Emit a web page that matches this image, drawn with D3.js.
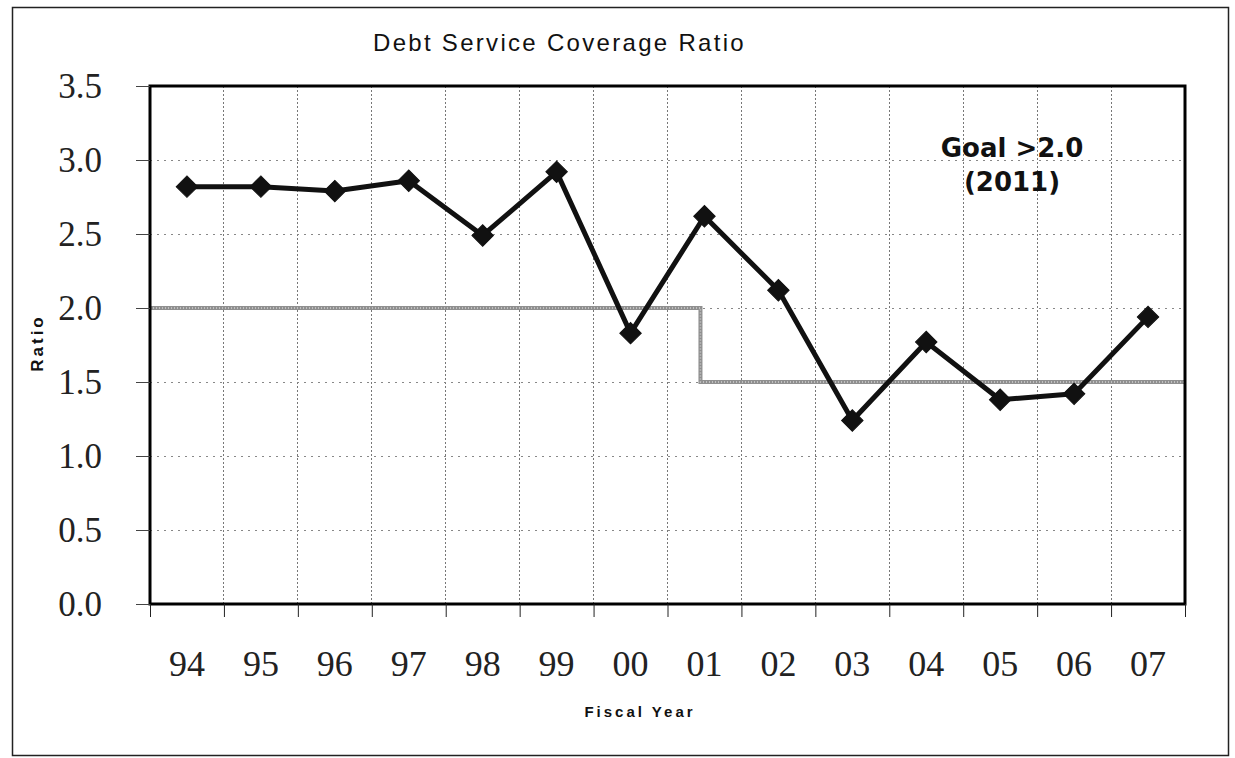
<!DOCTYPE html>
<html lang="en">
<head>
    <meta charset="UTF-8">
    <title>Debt Service Coverage Ratio</title>
    <style>
        html, body {
            margin: 0;
            padding: 0;
            background-color: #fff;
        }
        #chart {
            width: 1235px;
            height: 758px;
        }
        .grid line {
            shape-rendering: crispEdges;
        }
    </style>
</head>
<body>
    <div id="chart"></div>

    <script src="https://d3js.org/d3.v7.min.js"></script>
    <script>
        // values
        const years = ['94', '95', '96', '97', '98', '99', '00', '01', '02', '03', '04', '05', '06', '07'];
        const ratios = [2.82, 2.82, 2.79, 2.86, 2.49, 2.92, 1.83, 2.62, 2.12, 1.24, 1.77, 1.38, 1.42, 1.94];
        const yTicks = [0, 0.5, 1.0, 1.5, 2.0, 2.5, 3.0, 3.5];
        // goal: 2.0 until FY01, then 1.5
        const goalYears = ['94', '01'];
        const goalValues = [2.0, 1.5];

        const width = 1235;
        const height = 758;
        const plot = { left: 150, right: 1185, top: 86, bottom: 604 };

        const svg = d3.select('#chart')
            .append('svg')
            .attr('width', width)
            .attr('height', height);

        // outer frame
        svg.append('rect')
            .attr('x', 12.5)
            .attr('y', 7.5)
            .attr('width', 1216)
            .attr('height', 748)
            .attr('fill', 'none')
            .attr('stroke', '#222')
            .attr('stroke-width', 1.5);

        const x = d3.scaleBand()
            .domain(years)
            .range([plot.left, plot.right])
            .padding(0);

        const xEdge = d3.scaleLinear()
            .domain([0, years.length])
            .range([plot.left, plot.right]);

        const y = d3.scaleLinear()
            .domain([0, 3.5])
            .range([plot.bottom, plot.top]);

        const cx = d => x(d) + x.bandwidth() / 2;

        // gridlines
        svg.append('g')
            .attr('class', 'grid')
            .selectAll('line')
            .data(d3.range(1, years.length))
            .enter()
            .append('line')
            .attr('x1', d => xEdge(d))
            .attr('x2', d => xEdge(d))
            .attr('y1', plot.top)
            .attr('y2', plot.bottom)
            .attr('stroke', '#777')
            .attr('stroke-width', 1)
            .attr('stroke-dasharray', '2,2');

        svg.append('g')
            .attr('class', 'grid')
            .selectAll('line')
            .data(yTicks.filter(v => v > 0 && v < 3.5))
            .enter()
            .append('line')
            .attr('x1', plot.left)
            .attr('x2', plot.right)
            .attr('y1', d => y(d))
            .attr('y2', d => y(d))
            .attr('stroke', '#888')
            .attr('stroke-width', 1)
            .attr('stroke-dasharray', '2,5');

        // goal step line
        const goalPoints = [
            [plot.left, goalValues[0]],
            [cx(goalYears[1]) - 4, goalValues[1]],
            [plot.right, goalValues[1]]
        ];
        const goalLine = d3.line()
            .x(d => d[0])
            .y(d => y(d[1]))
            .curve(d3.curveStepAfter);
        svg.append('path')
            .datum(goalPoints)
            .attr('fill', 'none')
            .attr('stroke', '#8f8f8f')
            .attr('stroke-width', 4)
            .attr('d', goalLine);
        svg.append('path')
            .datum(goalPoints)
            .attr('fill', 'none')
            .attr('stroke', '#cfcfcf')
            .attr('stroke-width', 1.5)
            .attr('stroke-dasharray', '1,2')
            .attr('d', goalLine);

        // ratio series
        const series = years.map((yr, i) => ({ year: yr, value: ratios[i] }));

        svg.append('path')
            .datum(series)
            .attr('fill', 'none')
            .attr('stroke', '#111')
            .attr('stroke-width', 5)
            .attr('stroke-linejoin', 'round')
            .attr('d', d3.line()
                .x(d => cx(d.year))
                .y(d => y(d.value)));

        svg.selectAll('path.marker')
            .data(series)
            .enter()
            .append('path')
            .attr('class', 'marker')
            .attr('d', d3.symbol().type(d3.symbolSquare).size(230))
            .attr('transform', d => `translate(${cx(d.year)},${y(d.value)}) rotate(45)`)
            .attr('fill', '#111')
            .attr('stroke', '#111')
            .attr('stroke-width', 1);

        // plot border
        svg.append('rect')
            .attr('x', plot.left)
            .attr('y', plot.top)
            .attr('width', plot.right - plot.left)
            .attr('height', plot.bottom - plot.top)
            .attr('fill', 'none')
            .attr('stroke', '#000')
            .attr('stroke-width', 3);

        // y axis
        const yAxis = svg.append('g')
            .attr('transform', `translate(${plot.left},0)`)
            .call(d3.axisLeft(y)
                .tickValues(yTicks)
                .tickFormat(d3.format('.1f'))
                .tickSizeInner(14)
                .tickSizeOuter(0)
                .tickPadding(34));
        yAxis.select('.domain').remove();
        yAxis.selectAll('line').attr('stroke', '#444');
        yAxis.selectAll('text')
            .attr('font-family', '"Liberation Serif", "Times New Roman", serif')
            .attr('font-size', '35px')
            .attr('fill', '#222');

        // x tick marks at category edges
        const xTicks = svg.append('g')
            .attr('transform', `translate(0,${plot.bottom})`)
            .call(d3.axisBottom(xEdge)
                .tickValues(d3.range(0, years.length + 1))
                .tickFormat('')
                .tickSizeInner(13)
                .tickSizeOuter(0));
        xTicks.select('.domain').remove();
        xTicks.selectAll('line').attr('stroke', '#222');

        // x labels
        const xAxis = svg.append('g')
            .attr('transform', `translate(0,${plot.bottom})`)
            .call(d3.axisBottom(x)
                .tickSize(0)
                .tickPadding(46));
        xAxis.select('.domain').remove();
        xAxis.selectAll('text')
            .attr('font-family', '"Liberation Serif", "Times New Roman", serif')
            .attr('font-size', '36px')
            .attr('fill', '#222');

        // titles
        svg.append('text')
            .attr('x', 373)
            .attr('y', 51)
            .attr('font-family', '"Liberation Sans", Arial, sans-serif')
            .attr('font-size', '24px')
            .attr('letter-spacing', '2.3px')
            .attr('fill', '#111')
            .text('Debt Service Coverage Ratio');

        svg.append('text')
            .attr('x', 640)
            .attr('y', 717)
            .attr('text-anchor', 'middle')
            .attr('font-family', '"Liberation Sans", Arial, sans-serif')
            .attr('font-size', '15px')
            .attr('font-weight', 'bold')
            .attr('letter-spacing', '3px')
            .attr('fill', '#111')
            .text('Fiscal Year');

        svg.append('text')
            .attr('transform', 'translate(43,343) rotate(-90)')
            .attr('text-anchor', 'middle')
            .attr('font-family', '"Liberation Sans", Arial, sans-serif')
            .attr('font-size', '17px')
            .attr('font-weight', 'bold')
            .attr('letter-spacing', '3px')
            .attr('fill', '#111')
            .text('Ratio');

        // goal annotation
        const note = svg.append('text')
            .attr('text-anchor', 'middle')
            .attr('font-family', '"DejaVu Sans", Verdana, sans-serif')
            .attr('font-size', '26px')
            .attr('font-weight', 'bold')
            .attr('fill', '#111');
        note.append('tspan')
            .attr('x', 1012)
            .attr('y', 157)
            .text('Goal >2.0');
        note.append('tspan')
            .attr('x', 1012)
            .attr('y', 191)
            .text('(2011)');
    </script>
</body>
</html>
